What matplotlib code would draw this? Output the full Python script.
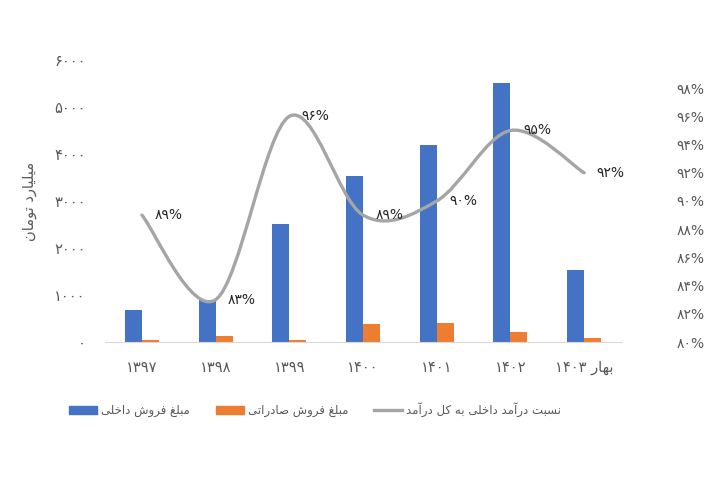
import matplotlib
matplotlib.use('Agg')
import matplotlib.pyplot as plt
from matplotlib.path import Path
from matplotlib.patches import PathPatch, Patch
from matplotlib.lines import Line2D
import numpy as np

plt.rcParams['font.family'] = ['DejaVu Sans']

# data (billion toman / share of domestic revenue)
years = ['۱۳۹۷', '۱۳۹۸', '۱۳۹۹', '۱۴۰۰', '۱۴۰۱', '۱۴۰۲', '۱۴۰۳']
domestic = [680, 900, 2520, 3530, 4200, 5520, 1540]
exports = [50, 135, 50, 380, 405, 215, 95]
share = [0.89, 0.83, 0.96, 0.89, 0.90, 0.95, 0.92]
share_labels = ['۸۹%', '۸۳%', '۹۶%', '۸۹%', '۹۰%', '۹۵%', '۹۲%']

# presentation forms: isolated, final, initial, medial
FORMS = {
    'ا': ('\uFE8D', '\uFE8E', None, None),
    'آ': ('\uFE81', '\uFE82', None, None),
    'ب': ('\uFE8F', '\uFE90', '\uFE91', '\uFE92'),
    'ت': ('\uFE95', '\uFE96', '\uFE97', '\uFE98'),
    'خ': ('\uFEA5', '\uFEA6', '\uFEA7', '\uFEA8'),
    'د': ('\uFEA9', '\uFEAA', None, None),
    'ر': ('\uFEAD', '\uFEAE', None, None),
    'س': ('\uFEB1', '\uFEB2', '\uFEB3', '\uFEB4'),
    'ش': ('\uFEB5', '\uFEB6', '\uFEB7', '\uFEB8'),
    'ص': ('\uFEB9', '\uFEBA', '\uFEBB', '\uFEBC'),
    'غ': ('\uFECD', '\uFECE', '\uFECF', '\uFED0'),
    'ف': ('\uFED1', '\uFED2', '\uFED3', '\uFED4'),
    'ک': ('\uFB8E', '\uFB8F', '\uFB90', '\uFB91'),
    'ل': ('\uFEDD', '\uFEDE', '\uFEDF', '\uFEE0'),
    'م': ('\uFEE1', '\uFEE2', '\uFEE3', '\uFEE4'),
    'ن': ('\uFEE5', '\uFEE6', '\uFEE7', '\uFEE8'),
    'ه': ('\uFEE9', '\uFEEA', '\uFEEB', '\uFEEC'),
    'و': ('\uFEED', '\uFEEE', None, None),
    'ی': ('\uFBFC', '\uFBFD', '\uFBFE', '\uFBFF'),
}


def fa(s):
    out = []
    for i, ch in enumerate(s):
        if ch not in FORMS:
            out.append(ch)
            continue
        prev = s[i - 1] if i > 0 else ''
        nxt = s[i + 1] if i + 1 < len(s) else ''
        jp = prev in FORMS and FORMS[prev][2] is not None
        jn = FORMS[ch][2] is not None and nxt in FORMS
        iso, fin, ini, med = FORMS[ch]
        if jp and jn:
            out.append(med)
        elif jp:
            out.append(fin)
        elif jn:
            out.append(ini)
        else:
            out.append(iso)
    return ''.join(reversed(out))


PDIG = str.maketrans('0123456789', '۰۱۲۳۴۵۶۷۸۹')
xlabels = years[:-1] + [years[-1] + ' ' + fa('بهار')]

BLUE = '#4472c4'
ORANGE = '#ed7d31'
GRAY = '#a5a5a5'
TXT = '#595959'

fig = plt.figure(figsize=(7.2, 4.8), dpi=100)
ax = fig.add_axes([105 / 720, 1 - 342 / 480, 516 / 720, 282 / 480])
x = np.arange(len(years))
w = 0.23
ax.bar(x - w / 2, domestic, w, color=BLUE)
ax.bar(x + w / 2, exports, w, color=ORANGE)
ax.set_xlim(-0.5, len(years) - 0.5)
ax.set_ylim(0, 6000)
yt = np.arange(0, 6001, 1000)
ax.set_yticks(yt)
ax.set_yticklabels([str(v).translate(PDIG) for v in yt], color=TXT, fontsize=10.5)
ax.set_xticks(x)
ax.set_xticklabels(xlabels, color=TXT, fontsize=10.5)
ax.tick_params(axis='y', length=0, pad=14)
ax.tick_params(axis='x', length=0, pad=13)
for s in ['top', 'right', 'left']:
    ax.spines[s].set_visible(False)
ax.spines['bottom'].set_color('#d9d9d9')
ax.set_ylabel(fa('میلیارد تومان'), color=TXT, fontsize=10.5, labelpad=12)

ax2 = ax.twinx()
ax2.set_ylim(0.80, 1.00)
rt = np.arange(80, 99, 2)
ax2.set_yticks(rt / 100)
ax2.set_yticklabels([(str(v) + '%').translate(PDIG) for v in rt], color=TXT, fontsize=10)
ax2.tick_params(axis='y', length=0, pad=40)
for s in ax2.spines.values():
    s.set_visible(False)

# smoothed line (bezier through the points)
pts = np.column_stack([x, share])
ext = np.vstack([pts[0], pts, pts[-1]])
verts = [tuple(pts[0])]
codes = [Path.MOVETO]
for i in range(1, len(ext) - 2):
    p0, p1, p2, p3 = ext[i - 1], ext[i], ext[i + 1], ext[i + 2]
    c1 = p1 + (p2 - p0) / 6
    c2 = p2 - (p3 - p1) / 6
    verts += [tuple(c1), tuple(c2), tuple(p2)]
    codes += [Path.CURVE4] * 3
ax2.add_patch(PathPatch(Path(verts, codes), facecolor='none', edgecolor=GRAY,
                        lw=2.4, transform=ax2.transData, capstyle='round'))

for xi, yi, lab in zip(x, share, share_labels):
    ax2.annotate(lab, (xi, yi), xytext=(9, 0), textcoords='offset points',
                 ha='left', va='center', fontsize=10, color='#262626')

handles = [Patch(color=BLUE), Patch(color=ORANGE), Line2D([], [], color=GRAY, lw=2.4)]
labels = [fa('مبلغ فروش داخلی'), fa('مبلغ فروش صادراتی'), fa('نسبت درآمد داخلی به کل درآمد')]
fig.legend(handles, labels, loc='center', bbox_to_anchor=(315 / 720, 1 - 410 / 480),
           ncol=3, frameon=False, fontsize=8.5, handlelength=2.4, handleheight=0.7,
           handletextpad=0.3, columnspacing=2.2, labelcolor=TXT)

fig.savefig('out.png', dpi=100)
